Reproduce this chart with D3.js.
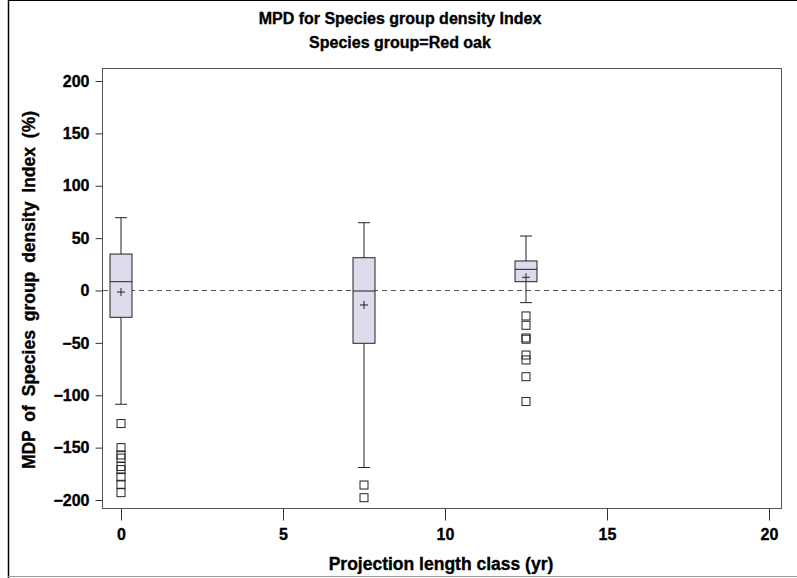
<!DOCTYPE html>
<html>
<head>
<meta charset="utf-8">
<script src="https://cdn.jsdelivr.net/npm/d3@7"></script>
<style>
body{margin:0;background:#fff;}
svg{display:block;}
text{font-family:"Liberation Sans",Arial,sans-serif;font-weight:bold;stroke:#000;stroke-width:0.35px;}
</style>
</head>
<body>
<script>
// box plot values
var classes = [0, 7.5, 12.5];
var q1 = [-25.6, -50.4, 8.4];
var med = [8.4, -0.5, 20.2];
var q3 = [34.8, 31.3, 28.2];
var means = [-1.5, -13.8, 12.6];
var whiskLo = [-108.6, -169, -11.6];
var whiskHi = [69.5, 64.7, 52];
var outliers = [
  [-127, -150, -157, -160, -168, -171, -178, -185, -193],
  [-185.7, -197.8],
  [-24.3, -33.2, -45.3, -46.5, -61.6, -66.3, -82.3, -106]
];
var xTicks = [0, 5, 10, 15, 20];
var yTicks = [-200, -150, -100, -50, 0, 50, 100, 150, 200];

var W = 797, H = 578;
var svg = d3.select("body").append("svg").attr("width", W).attr("height", H);

// outer page border
svg.append("line").attr("x1", 8.5).attr("x2", 8.5).attr("y1", 0).attr("y2", H).attr("stroke", "#000").attr("stroke-width", 1.5);
svg.append("line").attr("x1", 8).attr("x2", W).attr("y1", 0.5).attr("y2", 0.5).attr("stroke", "#000");
svg.append("line").attr("x1", 8).attr("x2", W).attr("y1", 576.5).attr("y2", 576.5).attr("stroke", "#999");

var x = d3.scaleLinear().domain([0, 20]).range([121, 769]);
var y = d3.scaleLinear().domain([-200, 200]).range([500, 81]);

var fl = 102, fr = 781, ft = 68, fb = 508;

// titles
svg.append("text").attr("x", 400).attr("y", 24).attr("text-anchor", "middle")
  .style("font-size", "16px").text("MPD for Species group density Index");
svg.append("text").attr("x", 400).attr("y", 48).attr("text-anchor", "middle")
  .style("font-size", "16px").text("Species group=Red oak");

// frame
svg.append("rect").attr("x", fl + 0.5).attr("y", ft + 0.5).attr("width", fr - fl).attr("height", fb - ft)
  .attr("fill", "none").attr("stroke", "#555").attr("stroke-width", 1);

// axes
var xAxis = svg.append("g").attr("transform", "translate(0," + (fb + 0.5) + ")")
  .call(d3.axisBottom(x).tickValues(xTicks).tickSize(12).tickPadding(8).tickFormat(d3.format("d")));
xAxis.select(".domain").remove();
xAxis.selectAll("line").attr("stroke", "#333");
xAxis.selectAll("text").style("font-size", "16px").attr("fill", "#000");

var yAxis = svg.append("g").attr("transform", "translate(" + (fl + 0.5) + ",0)")
  .call(d3.axisLeft(y).tickValues(yTicks).tickSize(7).tickPadding(6)
    .tickFormat(function(d){ return d < 0 ? "\u2212" + (-d) : d; }));
yAxis.select(".domain").remove();
yAxis.selectAll("line").attr("stroke", "#333");
yAxis.selectAll("text").style("font-size", "16px").attr("fill", "#000");

svg.append("text").attr("x", 441).attr("y", 570).attr("text-anchor", "middle")
  .style("font-size", "17.5px").text("Projection length class (yr)");
svg.append("text").attr("transform", "translate(35,290) rotate(-90)").attr("text-anchor", "middle")
  .style("font-size", "17.5px").style("word-spacing", "4px").text("MDP of Species group density Index (%)");

// reference line at 0
svg.append("line").attr("x1", fl + 1).attr("x2", fr).attr("y1", y(0)).attr("y2", y(0))
  .attr("stroke", "#555").attr("stroke-dasharray", "5,4");

var bw = 22, cap = 10;
var data = classes.map(function(c, i){
  return {c: c, q1: q1[i], med: med[i], q3: q3[i], mean: means[i], lo: whiskLo[i], hi: whiskHi[i], out: outliers[i]};
});

var g = svg.selectAll("g.box").data(data).enter().append("g").attr("class", "box");

g.append("line").attr("x1", function(d){ return x(d.c); }).attr("x2", function(d){ return x(d.c); })
  .attr("y1", function(d){ return y(d.hi); }).attr("y2", function(d){ return y(d.lo); })
  .attr("stroke", "#222");
g.append("line").attr("x1", function(d){ return x(d.c) - cap/2 - 1; }).attr("x2", function(d){ return x(d.c) + cap/2 + 1; })
  .attr("y1", function(d){ return y(d.hi); }).attr("y2", function(d){ return y(d.hi); }).attr("stroke", "#222");
g.append("line").attr("x1", function(d){ return x(d.c) - cap/2 - 1; }).attr("x2", function(d){ return x(d.c) + cap/2 + 1; })
  .attr("y1", function(d){ return y(d.lo); }).attr("y2", function(d){ return y(d.lo); }).attr("stroke", "#222");
g.append("rect").attr("x", function(d){ return x(d.c) - bw/2; }).attr("width", bw)
  .attr("y", function(d){ return y(d.q3); }).attr("height", function(d){ return y(d.q1) - y(d.q3); })
  .attr("fill", "#dcdcec").attr("stroke", "#222");
g.append("line").attr("x1", function(d){ return x(d.c) - bw/2; }).attr("x2", function(d){ return x(d.c) + bw/2; })
  .attr("y1", function(d){ return y(d.med); }).attr("y2", function(d){ return y(d.med); }).attr("stroke", "#222");
g.append("path").attr("d", function(d){
  var cx = x(d.c), cy = y(d.mean);
  return "M" + (cx - 4) + "," + cy + "H" + (cx + 4) + "M" + cx + "," + (cy - 4) + "V" + (cy + 4);
}).attr("stroke", "#222");

g.selectAll("rect.out").data(function(d){ return d.out.map(function(v){ return {c: d.c, v: v}; }); })
  .enter().append("rect").attr("class", "out")
  .attr("x", function(d){ return x(d.c) - 4; }).attr("y", function(d){ return y(d.v) - 4; })
  .attr("width", 8).attr("height", 8).attr("fill", "none").attr("stroke", "#222");
</script>
</body>
</html>
